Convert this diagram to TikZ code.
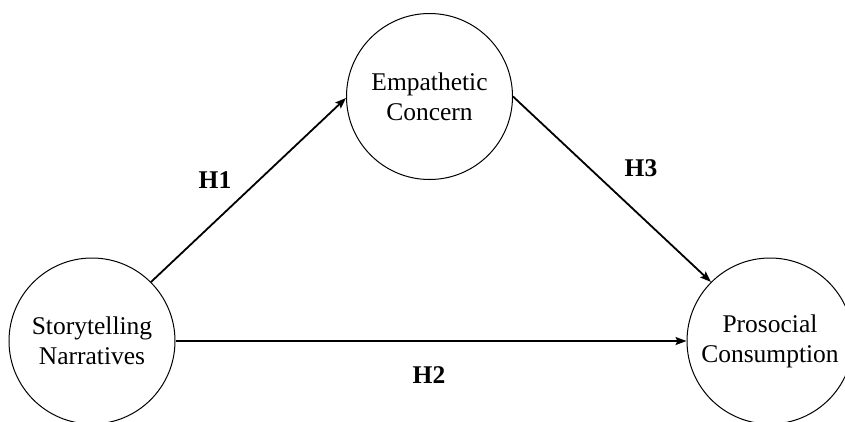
\documentclass[tikz,border=0pt]{standalone}
\usepackage{fontspec}
\setmainfont{Liberation Serif}
\usetikzlibrary{arrows.meta}
\begin{document}
\begin{tikzpicture}[x=1pt,y=-1pt,
  construct/.style={circle,draw,line width=1pt,minimum size=166pt,inner sep=0pt,align=center,
    font=\fontsize{25.5}{30}\selectfont},
  path/.style={line width=1.8pt,-{Stealth[length=11pt,width=8pt,inset=2pt]}},
  hyp/.style={font=\fontsize{25.5}{30}\selectfont\bfseries}]
\useasboundingbox (0,0) rectangle (845,421);
\node[construct] (sn) at (92,341) {Storytelling\\Narratives};
\node[construct] (ec) at (429.5,96.5) {Empathetic\\Concern};
\node[construct] (pc) at (770,341) {Prosocial\\Consumption};
\draw[path] (sn.45) -- (ec.181);
\draw[path] (ec.east) -- (pc.135);
\draw[path] (sn.east) -- (pc.west);
\node[hyp] (h1) at (215,180) {H1};
\node[hyp] (h3) at (641,168) {H3};
\node[hyp] (h2) at (429,375) {H2};
\end{tikzpicture}
\end{document}
